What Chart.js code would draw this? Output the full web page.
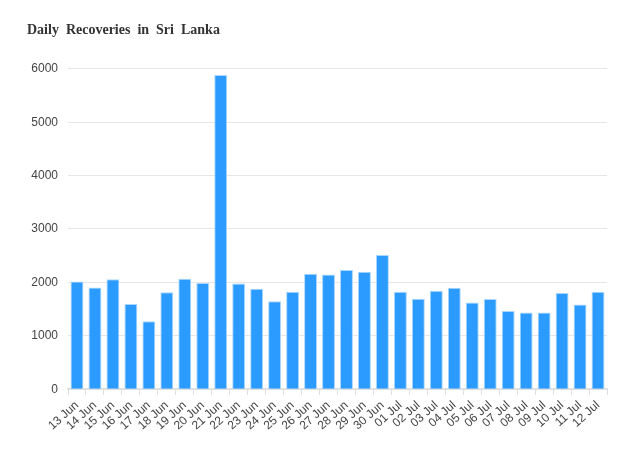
<!DOCTYPE html>
<html>
<head>
<meta charset="utf-8">
<script src="https://cdn.jsdelivr.net/npm/chart.js@4"></script>
<style>
  html, body { margin: 0; padding: 0; background: #fff; }
  #wrap { width: 635px; height: 451px; }
</style>
</head>
<body>
<div id="wrap"><canvas id="myChart" width="635" height="451"></canvas></div>
<script>
// dates
var labels = [
  '13 Jun', '14 Jun', '15 Jun', '16 Jun', '17 Jun', '18 Jun', '19 Jun', '20 Jun',
  '21 Jun', '22 Jun', '23 Jun', '24 Jun', '25 Jun', '26 Jun', '27 Jun', '28 Jun',
  '29 Jun', '30 Jun', '01 Jul', '02 Jul', '03 Jul', '04 Jul', '05 Jul', '06 Jul',
  '07 Jul', '08 Jul', '09 Jul', '10 Jul', '11 Jul', '12 Jul',
];

// daily recoveries
var recoveries = [
  2015, 1905, 2058, 1596, 1270, 1815, 2068, 1990,
  5882, 1978, 1882, 1645, 1826, 2162, 2148, 2232,
  2200, 2512, 1826, 1695, 1845, 1900, 1625, 1690,
  1462, 1438, 1438, 1800, 1588, 1826,
];

var yTicks = [0, 1000, 2000, 3000, 4000, 5000, 6000];

var ctx = document.getElementById('myChart').getContext('2d');
var myChart = new Chart(ctx, {
  type: 'bar',
  data: {
    labels: labels,
    datasets: [
      {
        label: 'Recoveries',
        data: recoveries,
        backgroundColor: 'rgba(33, 150, 255, 0.95)',
        borderColor: 'rgba(170, 215, 255, 1)',
        borderWidth: 1,
      },
    ],
  },
  options: {
    responsive: false,
    animation: false,
    layout: { padding: { left: 27, right: 28, top: 18, bottom: 15 } },
    plugins: {
      legend: { display: false },
      tooltip: { enabled: false },
      title: {
        display: true,
        text: 'Daily  Recoveries  in  Sri  Lanka',
        align: 'start',
        color: '#333',
        font: { family: 'Liberation Serif', size: 14, weight: 'bold' },
        padding: { top: 4, bottom: 30 },
      },
    },
    scales: {
      x: {
        grid: { drawOnChartArea: false, color: '#e0e0e0', tickLength: 6 },
        border: { color: '#e0e0e0', width: 2 },
        ticks: {
          autoSkip: false,
          minRotation: 42,
          maxRotation: 42,
          color: '#444',
          font: { family: 'Liberation Sans', size: 12 },
        },
      },
      y: {
        min: 0,
        max: 6000,
        afterBuildTicks: function (axis) {
          axis.ticks = yTicks.map(function (v) { return { value: v }; });
        },
        afterFit: function (axis) { axis.width = 41; },
        grid: { color: '#e6e6e6', drawTicks: false },
        border: { display: false },
        ticks: {
          padding: 10,
          color: '#444',
          font: { family: 'Liberation Sans', size: 12 },
          callback: function (v) { return String(v); },
        },
      },
    },
  },
});
</script>
</body>
</html>
